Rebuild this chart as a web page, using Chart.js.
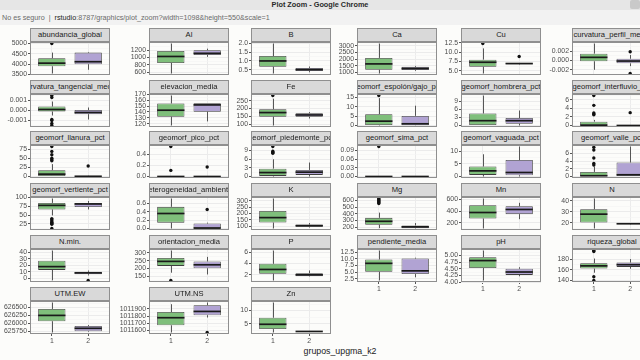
<!DOCTYPE html>
<html>
<head>
<meta charset="utf-8">
<script src="https://cdn.jsdelivr.net/npm/chart.js@4.4.1/dist/chart.umd.min.js"></script>
<style>
body{margin:0;width:640px;height:360px;overflow:hidden;background:#fcfcfa;position:relative;font-family:"Liberation Sans",Arial,sans-serif}
#titlebar{position:absolute;left:0;top:0;width:640px;height:10px;background:#e6e6e6;font-weight:bold;font-size:7.3px;line-height:10px;text-align:center;color:#2a2a2a}
#winbtn{position:absolute;right:0;top:0;width:10px;height:9px;background:#c9c9c9;border-radius:2px}
#addr{position:absolute;left:0;top:10px;width:640px;height:15px;background:#f2f2f2;font-size:7.2px;line-height:15px;color:#6a6a6a;white-space:nowrap}
#addr b{font-weight:normal;color:#222}
.strip{position:absolute;height:14px;width:80px;background:#d9d9d9;border:1px solid #8f8f8f;box-sizing:border-box;overflow:hidden}
.strip span{position:absolute;left:50%;top:0;transform:translateX(-50%);white-space:nowrap;font-size:7.6px;line-height:12px;color:#1a1a1a}
.panel{position:absolute}
#xtitle{position:absolute;left:240px;width:200px;top:346px;text-align:center;font-size:8.8px;color:#1a1a1a}
</style>
</head>
<body>
<div id="titlebar">Plot Zoom - Google Chrome</div>
<div id="winbtn"></div>
<div id="addr">&nbsp;No es seguro &nbsp;|&nbsp; <b>rstudio</b>:8787/graphics/plot_zoom?width=1098&amp;height=550&amp;scale=1</div>
<div id="xtitle">grupos_upgma_k2</div>
<script>
// grupos
var grupos = ['1', '2'];

var nombres = ['abundancia_global', 'Al', 'B', 'Ca', 'Cu', 'curvatura_perfil_media',
  'curvatura_tangencial_media', 'elevacion_media', 'Fe', 'geomorf_espolón/gajo_pct', 'geomorf_hombrera_pct', 'geomorf_interfluvio_pct',
  'geomorf_llanura_pct', 'geomorf_pico_pct', 'geomorf_piedemonte_pct', 'geomorf_sima_pct', 'geomorf_vaguada_pct', 'geomorf_valle_pct',
  'geomorf_vertiente_pct', 'heterogeneidad_ambiental', 'K', 'Mg', 'Mn', 'N',
  'N.min.', 'orientacion_media', 'P', 'pendiente_media', 'pH', 'riqueza_global',
  'UTM.EW', 'UTM.NS', 'Zn'];

// etiquetas del eje y de cada panel
var etiquetasY = [
  ['3500', '4000', '4500', '5000'], ['600', '800', '1000', '1200'], ['0.5', '1.0', '1.5', '2.0'],
  ['1000', '1500', '2000', '2500', '3000'], ['5.0', '7.5', '10.0', '12.5'], ['-0.002', '0.000', '0.002'],
  ['-0.001', '0.000', '0.001'], ['120', '130', '140', '150', '160', '170'], ['100', '150', '200', '250'],
  ['0', '5', '10', '15'], ['0', '3', '6', '9'], ['0', '2', '4', '6'],
  ['0', '25', '50', '75'], ['0.0', '0.2', '0.4'], ['0', '3', '6', '9'],
  ['0.00', '0.03', '0.06', '0.09'], ['0', '5', '10'], ['0', '2', '4', '6'],
  ['25', '50', '75', '100'], ['0.0', '0.2', '0.4', '0.6'], ['100', '150', '200', '250', '300'],
  ['200', '300', '400', '500', '600'], ['200', '400', '600'], ['20', '30', '40'],
  ['0', '10', '20', '30', '40'], ['150', '200', '250', '300'], ['2', '4', '6'],
  ['2.5', '5.0', '7.5', '10.0', '12.5'], ['4.00', '4.25', '4.50', '4.75', '5.00'], ['140', '160', '180'],
  ['625750', '626000', '626250', '626500'], ['1011600', '1011700', '1011800', '1011900'], ['5', '10']
];

// [bigote inf, q1, mediana, q3, bigote sup] grupo 1
var cajas1 = [
  [3550, 3900, 4050, 4290, 4560], [570, 855, 1030, 1180, 1380], [0.28, 0.67, 1.0, 1.28, 2.0],
  [930, 1210, 1650, 2100, 3180], [4.3, 6.1, 7.3, 8.0, 11.0], [-0.002, -0.00015, 0.0007, 0.0015, 0.0037],
  [-0.0005, -0.0001, 0.0001, 0.0004, 0.0009], [117, 132, 143, 154.5, 168], [94, 149, 175, 196, 262],
  [0, 0.2, 2.3, 6.0, 14.5], [0, 0, 1.8, 4.5, 11.2], [0, 0, 0.05, 0.9, 1.3],
  [0, 0, 6.5, 17.5, 34], [0, 0, 0, 0, 0], [0, 0.2, 1.35, 2.7, 5.9],
  [0, 0, 0, 0, 0], [0, 0.65, 2.25, 4.0, 8.9], [0, 0, 0.2, 1.2, 2.6],
  [49, 66, 77.5, 84.5, 97], [0, 0.14, 0.36, 0.52, 0.72], [82, 129, 168, 221, 319],
  [185, 237, 288, 340, 418], [103, 274, 377, 502, 617], [15, 20.4, 28, 32.5, 42.2],
  [-3, 13, 18, 27, 42.6], [172, 216, 245, 267, 315], [1.0, 2.2, 2.95, 3.95, 6.3],
  [1.9, 5.15, 8.3, 9.75, 13.1], [4.06, 4.53, 4.81, 4.94, 5.19], [154.5, 162.2, 167.3, 172.4, 181],
  [625720, 626070, 626250, 626450, 626650], [1011570, 1011671, 1011777, 1011856, 1011966], [1.6, 2.9, 4.75, 7.25, 13.1]
];

// grupo 2
var cajas2 = [
  [3730, 4000, 4120, 4560, 4590], [1020, 1068, 1115, 1200, 1240], [0.35, 0.42, 0.5, 0.6, 0.68],
  [1130, 1190, 1300, 1430, 1500], [6.7, 6.8, 6.95, 7.05, 7.1], [-0.0012, -0.0006, -0.0001, 0.0004, 0.0012],
  [-0.0009, -0.00037, -0.0002, 0.00005, 0.0003], [124, 140.5, 152, 155, 155], [138, 149, 160, 171, 178],
  [0, 0.1, 0.9, 5.1, 10.5], [0, 0.65, 1.8, 2.8, 5.6], [0, 0, 0, 0, 0],
  [0, 0, 0.5, 2, 2.5], [0, 0, 0, 0, 0], [0, 0.55, 1.5, 2.25, 4.8],
  [0, 0, 0, 0, 0], [0, 0.5, 1.6, 6.6, 12.0], [0, 0, 0.45, 3.65, 7.8],
  [66, 73, 81.5, 84.5, 90], [0, 0, 0.01, 0.12, 0.14], [90, 95, 104, 113, 125],
  [180, 185, 205, 226, 262], [263, 349, 429, 485, 543], [18.8, 19.1, 19.3, 19.6, 19.9],
  [4.5, 6.4, 8.4, 10, 12], [161, 201, 223, 245, 274], [1.7, 1.77, 2.0, 2.3, 2.77],
  [3.1, 4.3, 5.5, 10.1, 10.4], [4.22, 4.27, 4.38, 4.50, 4.56], [162, 165.4, 169.5, 173.6, 180],
  [625740, 625760, 625850, 625920, 625950], [1011780, 1011812, 1011865, 1011953, 1011990], [1.9, 1.95, 2.0, 2.1, 2.2]
];

// valores atipicos
var atipicos1 = [
  [5000], [], [], [], [12.3], [],
  [0.0015, 0.0013, -0.0009, -0.001, -0.0013, -0.0015], [], [282], [15.9], [], [7.0, 4.7, 2.9, 2.7, 2.5],
  [82.5, 69, 60, 50, 46, 43], [0.54, 0.11], [10.3, 8.7, 8.3, 8.0], [0.103], [], [7.6, 6.9, 4.8, 3.4, 3.0],
  [40, 37, 33, 30, 27, 24, 12], [], [], [630, 615, 600, 585, 570, 555], [], [],
  [], [122], [], [], [], [196, 194, 147, 140],
  [], [], []
];
var atipicos2 = [
  [], [], [], [], [8.85], [0.0019, -0.0028],
  [], [], [], [], [], [3.0],
  [29], [0.17], [], [], [], [],
  [], [0.456], [], [], [], [],
  [-3.2], [], [], [], [], [],
  [], [1011570], []
];

var colores = ['#7fbf7b', '#b1a3d3'];
var colIzq = [30, 149, 251, 357, 461, 572];
var anchoPanel = 80, altoPanel = 33, altoTira = 14, pasoFila = 51.7, primeraTira = 28;
var anchoEje = 42, margenSup = 6, margenInf = 6;
var fuente = '"Liberation Sans", Arial, sans-serif';

Chart.defaults.font.family = fuente;

var cajaPlugin = {
  id: 'cajas',
  beforeDatasetsDraw: function (chart) {//bigotes
    var i = chart.options.plugins.cajas.panel;
    var x = chart.scales.x, y = chart.scales.y, ctx = chart.ctx;
    [cajas1[i], cajas2[i]].forEach(function (c, g) {
      var px = Math.round(x.getPixelForValue(g + 1)) + 0.5;
      ctx.save();
      ctx.strokeStyle = '#444';
      ctx.lineWidth = 0.9;
      ctx.beginPath();
      ctx.moveTo(px, y.getPixelForValue(c[4]));
      ctx.lineTo(px, y.getPixelForValue(c[3]));
      ctx.moveTo(px, y.getPixelForValue(c[1]));
      ctx.lineTo(px, y.getPixelForValue(c[0]));
      ctx.stroke();
      ctx.restore();
    });
  },
  afterDatasetDraw: function (chart, args) {//mediana
    if (args.index !== 0) return;
    var i = chart.options.plugins.cajas.panel;
    var y = chart.scales.y, ctx = chart.ctx;
    var meta = chart.getDatasetMeta(0);
    [cajas1[i], cajas2[i]].forEach(function (c, g) {
      var bar = meta.data[g];
      var py = y.getPixelForValue(c[2]);
      ctx.save();
      ctx.strokeStyle = '#1a1a1a';
      ctx.lineWidth = 1.7;
      ctx.beginPath();
      ctx.moveTo(bar.x - bar.width / 2, py);
      ctx.lineTo(bar.x + bar.width / 2, py);
      ctx.stroke();
      ctx.restore();
    });
  },
  afterDraw: function (chart) {//borde del panel
    var a = chart.chartArea, ctx = chart.ctx;
    ctx.save();
    ctx.strokeStyle = '#8f8f8f';
    ctx.lineWidth = 1;
    ctx.strokeRect(a.left + 0.5, a.top + 0.5, a.right - a.left - 1, a.bottom - a.top - 1);
    ctx.restore();
  }
};

nombres.forEach(function (nombre, i) {
  var col = i % 6, fila = Math.floor(i / 6);
  var abajo = fila === 5 || (fila === 4 && col >= 3);
  var tiraTop = Math.round(primeraTira + fila * pasoFila);
  var plotTop = tiraTop + altoTira;

  var tira = document.createElement('div');
  tira.className = 'strip';
  tira.style.left = colIzq[col] + 'px';
  tira.style.top = tiraTop + 'px';
  var sp = document.createElement('span');
  sp.textContent = nombre;
  tira.appendChild(sp);
  document.body.appendChild(tira);

  // rango del eje y (5% de expansion como ggplot)
  var vals = cajas1[i].concat(cajas2[i], atipicos1[i], atipicos2[i]);
  var mn = Math.min.apply(null, vals), mx = Math.max.apply(null, vals);
  var ex = (mx - mn) * 0.05;
  var yMin = mn - ex, yMax = mx + ex;

  var mayores = etiquetasY[i].map(function (t) { return { value: parseFloat(t), text: t }; });
  var paso = mayores[1].value - mayores[0].value;
  var marcas = mayores.slice();
  for (var k = -1; k < mayores.length; k++) {
    var v = mayores[0].value + (k + 0.5) * paso;
    if (v > yMin && v < yMax) marcas.push({ value: v, text: '', minor: true });
  }
  marcas.sort(function (a, b) { return a.value - b.value; });

  var altoEjeX = abajo ? 13 : 0;
  var w = anchoEje + anchoPanel + 2;
  var h = margenSup + altoPanel + (abajo ? altoEjeX : margenInf);

  var div = document.createElement('div');
  div.className = 'panel';
  div.style.left = (colIzq[col] - anchoEje) + 'px';
  div.style.top = (plotTop - margenSup) + 'px';
  var canvas = document.createElement('canvas');
  canvas.width = w; canvas.height = h;
  canvas.style.width = w + 'px'; canvas.style.height = h + 'px';
  div.appendChild(canvas);
  document.body.appendChild(div);

  var puntos = atipicos1[i].map(function (v) { return { x: 1, y: v }; })
    .concat(atipicos2[i].map(function (v) { return { x: 2, y: v }; }));

  new Chart(canvas, {
    type: 'bar',
    data: {
      datasets: [{
        type: 'bar',
        data: [{ x: 1, y: [cajas1[i][1], cajas1[i][3]] }, { x: 2, y: [cajas2[i][1], cajas2[i][3]] }],
        backgroundColor: colores,
        borderColor: '#3d3d3d',
        borderWidth: 0.8,
        borderSkipped: false,
        grouped: false,
        barPercentage: 0.75,
        categoryPercentage: 1
      }, {
        type: 'scatter',
        data: puntos,
        pointRadius: 1.7,
        pointBackgroundColor: '#111',
        pointBorderWidth: 0
      }]
    },
    options: {
      responsive: false,
      animation: false,
      devicePixelRatio: 1,
      layout: { autoPadding: false, padding: { top: margenSup, right: 2, bottom: abajo ? 0 : margenInf, left: 0 } },
      plugins: { legend: { display: false }, tooltip: { enabled: false }, cajas: { panel: i } },
      scales: {
        x: {
          type: 'linear', min: 0.4, max: 2.6, offset: false,
          afterBuildTicks: function (s) { s.ticks = [{ value: 1 }, { value: 2 }]; },
          afterFit: function (s) { s.height = altoEjeX; s.paddingLeft = 0; s.paddingRight = 0; },
          ticks: { display: abajo, autoSkip: false, maxRotation: 0, padding: 1, color: '#4d4d4d', font: { size: 6.9 },
            callback: function (v) { return grupos[v - 1]; } },
          grid: { offset: false, color: '#ebebeb', lineWidth: 1, drawTicks: abajo, tickLength: 2, tickColor: '#555' },
          border: { display: false }
        },
        y: {
          type: 'linear', min: yMin, max: yMax,
          afterBuildTicks: function (s) { s.ticks = marcas.map(function (m) { return Object.assign({}, m); }); },
          afterFit: function (s) { s.width = anchoEje; s.paddingTop = 0; s.paddingBottom = 0; },
          ticks: { autoSkip: false, padding: 1, color: '#4d4d4d', font: { size: 6.9 },
            callback: function (v, k, ts) { return ts[k].minor ? '' : ts[k].text; } },
          grid: {
            color: function (c) { return c.tick && c.tick.minor ? '#f4f4f4' : '#ebebeb'; },
            lineWidth: function (c) { return c.tick && c.tick.minor ? 0.6 : 1; },
            tickLength: 2,
            tickColor: function (c) { return c.tick && c.tick.minor ? 'rgba(0,0,0,0)' : '#555'; }
          },
          border: { display: false }
        }
      }
    },
    plugins: [cajaPlugin]
  });
});
</script>
</body>
</html>
